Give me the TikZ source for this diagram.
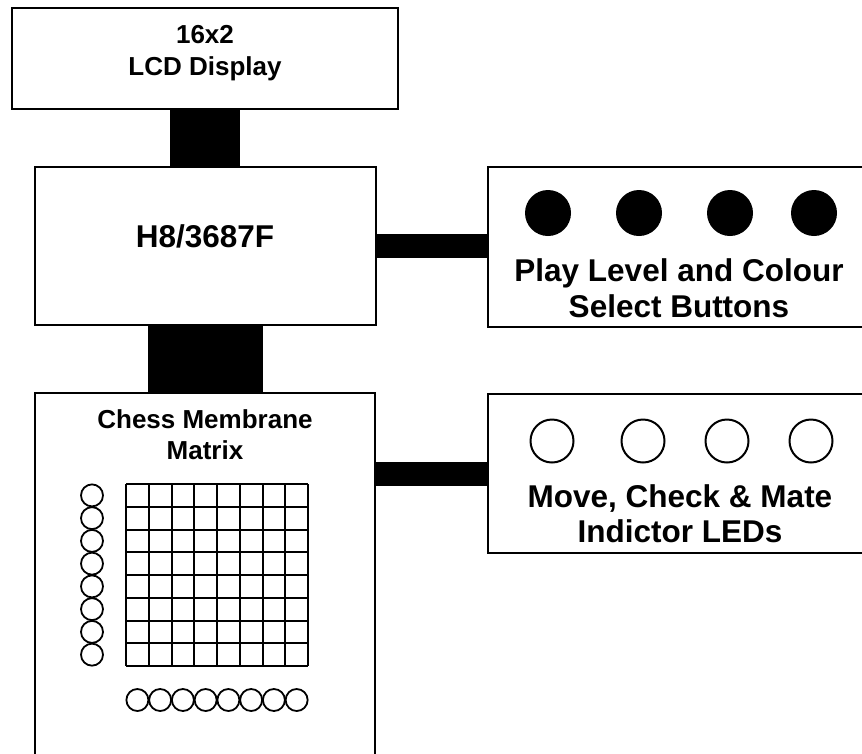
\documentclass[tikz,border=0pt]{standalone}
\usepackage{fontspec}
\setmainfont{Liberation Sans}
\usetikzlibrary{positioning}
\tikzset{box/.style={draw,line width=1.8pt,inner sep=0pt},
  caption/.style={align=center,anchor=base,inner sep=0pt},
  bus/.style={line width=#1},
  btn/.style={circle,fill,inner sep=0pt,minimum size=46pt},
  led/.style={circle,draw,line width=2pt,inner sep=0pt,minimum size=43pt},
  pin/.style={circle,draw,line width=1.8pt,inner sep=0pt,minimum size=22pt}}
\begin{document}
\begin{tikzpicture}[x=1pt,y=-1pt]
\useasboundingbox (0,0) rectangle (862,753);
\clip (0,0) rectangle (862,753);
% blocks
\node[box,minimum width=386pt,minimum height=101pt] (lcd) at (205,58.5) {};
\node[box,minimum width=341pt,minimum height=158pt] (mcu) at (205.5,246) {};
\node[box,minimum width=340pt,minimum height=400pt] (chess) at (205,593) {};
\node[box,minimum width=400pt,minimum height=160pt] (keys) at (688,247) {};
\node[box,minimum width=400pt,minimum height=159pt] (leds) at (688,473.5) {};
% buses
\draw[bus=70pt] (lcd.south) -- (lcd.south |- mcu.north);
\draw[bus=115pt] (mcu.south) -- (mcu.south |- chess.north);
\draw[bus=24pt] (mcu.east) -- (mcu.east -| keys.west);
\draw[bus=24pt] (leds.west -| chess.east) -- (leds.west);
% labels
\node[caption,font=\bfseries\fontsize{26}{32}\selectfont] (lcdtext) at (205,75) {16x2\\LCD Display};
\node[caption,font=\bfseries\fontsize{31.5}{36}\selectfont] (mcutext) at (205,247) {H8/3687F};
\node[caption,font=\bfseries\fontsize{26}{31}\selectfont] (chesstext) at (205,459) {Chess Membrane\\Matrix};
\node[caption,font=\bfseries\fontsize{31.5}{36}\selectfont] (keystext) at (679,317) {Play Level and Colour\\Select Buttons};
\node[caption,font=\bfseries\fontsize{31.5}{35}\selectfont] (ledstext) at (680,542) {Move, Check \& Mate\\Indictor LEDs};
% buttons and leds
\foreach \x [count=\i] in {548,639,730,814}{\node[btn] (key\i) at (\x,213) {};}
\foreach \x [count=\i] in {552,643,727,811}{\node[led] (led\i) at (\x,441) {};}
% membrane grid
\foreach \k in {0,...,8}{
  \draw[line width=2pt] (126+22.75*\k,484) -- (126+22.75*\k,666);
  \draw[line width=2pt] (126,484+22.75*\k) -- (308,484+22.75*\k);}
\foreach \k in {0,...,7}{
  \node[pin] (row\k) at (92,495.4+22.75*\k) {};
  \node[pin] (col\k) at (137.4+22.75*\k,700) {};}
\end{tikzpicture}
\end{document}
